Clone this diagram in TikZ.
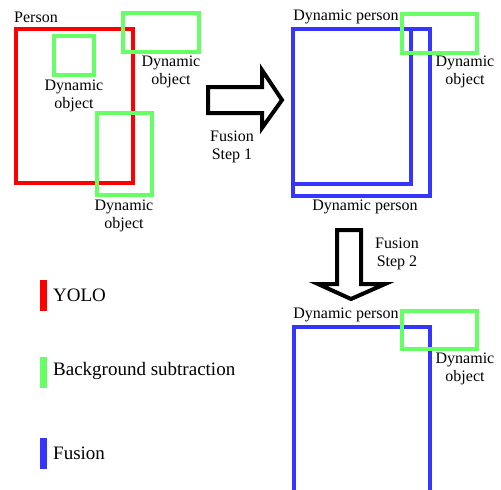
\documentclass[tikz,border=0pt]{standalone}
\usepackage{fontspec}
\setmainfont{Liberation Serif}
\definecolor{yolored}{HTML}{FF0000}
\definecolor{bggreen}{HTML}{66FF66}
\definecolor{fusblue}{HTML}{3535FF}
\begin{document}
\begin{tikzpicture}[x=1pt,y=-1pt,
  lbl/.style={inner sep=0pt,align=center,font=\rmfamily\fontsize{16}{18}\selectfont},
  leg/.style={inner sep=0pt,anchor=west,font=\rmfamily\fontsize{19}{21}\selectfont},
  yolobox/.style={draw=yolored,line width=4pt},
  bgbox/.style={draw=bggreen,line width=3.5pt},
  fusbox/.style={draw=fusblue,line width=4pt},
  blockarrow/.style={draw=black,line width=4pt,line join=miter,fill=white}]
\useasboundingbox (0,0) rectangle (501,490);
\fill[white] (0,0) rectangle (501,490);
\clip (0,0) rectangle (501,490);

% ---- input detections ----
\draw[yolobox] (16,29) rectangle (133,183);
\draw[bgbox] (54,36) rectangle (94,75);
\draw[bgbox] (123,13) rectangle (199,52);
\draw[bgbox] (97,113) rectangle (152,195);
\node[lbl] (person) at (36,17) {Person};
\node[lbl] (objA) at (74,95.5) {Dynamic\\object};
\node[lbl] (objB) at (171,72) {Dynamic\\object};
\node[lbl] (objC) at (124,215.5) {Dynamic\\object};

% ---- fusion step 1 ----
\draw[blockarrow] (208,87) -- (262,87) -- (262,70) -- (282,100) -- (262,128)
  -- (262,113) -- (208,113) -- cycle;
\node[lbl] (step1) at (232,146.5) {Fusion\\Step 1};

\draw[fusbox] (293,29) rectangle (430,196);
\draw[fusbox] (293,29) rectangle (411,184);
\draw[bgbox] (402,14) rectangle (477,53);
\node[lbl] (dp1) at (346,17) {Dynamic person};
\node[lbl] (dp2) at (365,207) {Dynamic person};
\node[lbl] (obj1) at (465,72) {Dynamic\\object};

% ---- fusion step 2 ----
\draw[blockarrow] (337,230) -- (361,230) -- (361,284) -- (385,284) -- (351,299)
  -- (318,284) -- (337,284) -- cycle;
\node[lbl] (step2) at (397,253.5) {Fusion\\Step 2};

\draw[fusbox] (294,500) -- (294,327) -- (430,327) -- (430,500);
\draw[bgbox] (402,311) rectangle (477,349);
\node[lbl] (dp3) at (346,315) {Dynamic person};
\node[lbl] (obj2) at (465,368.5) {Dynamic\\object};

% ---- legend ----
\fill[yolored] (40,280) rectangle (47,311);
\fill[bggreen] (40,357) rectangle (47,388);
\fill[fusblue] (40,438) rectangle (47,469);
\node[leg] (legY) at (53,295) {YOLO};
\node[leg] (legB) at (53,371) {Background subtraction};
\node[leg] (legF) at (53,453) {Fusion};
\end{tikzpicture}
\end{document}
